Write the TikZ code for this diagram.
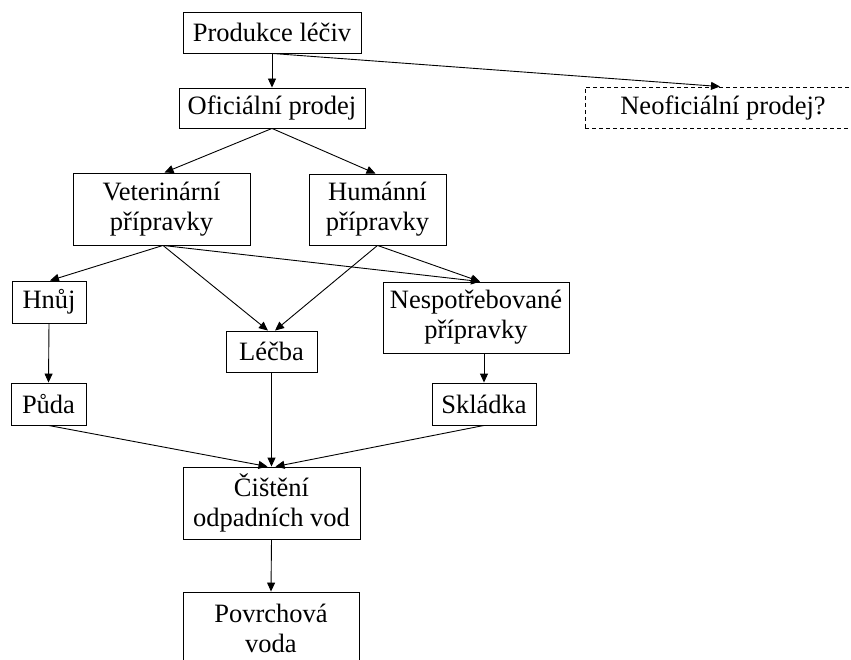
\documentclass[tikz,border=0pt]{standalone}
\usepackage{fontspec}
\setmainfont{Liberation Serif}
\usetikzlibrary{arrows.meta}
\begin{document}
\begin{tikzpicture}[x=1pt,y=-1pt,
  box/.style={draw=black, line width=0.9pt, inner sep=0pt, align=center,
    font=\fontsize{26.5}{30}\selectfont},
  conn/.style={draw=black, line width=0.9pt, -{Triangle[length=9pt,width=8pt]}}]
\useasboundingbox (0,0) rectangle (851,660);
\clip (0,0) rectangle (851,660);
\node[box, minimum width=178pt, minimum height=41pt] (prod) at (272,32.5) {Produkce léčiv};
\node[box, minimum width=186pt, minimum height=40pt] (ofic) at (272,108) {Oficiální prodej};
\node[box, dashed, dash pattern=on 4pt off 3pt, minimum width=276pt, minimum height=41pt] (neo) at (723,107.5) {Neoficiální prodej?};
\node[box, minimum width=177pt, minimum height=72pt] (vet) at (161.5,209) {Veterinární\\přípravky};
\node[box, minimum width=137pt, minimum height=71pt] (hum) at (377.5,209.5) {Humánní\\přípravky};
\node[box, minimum width=74pt, minimum height=42pt] (hnuj) at (49,302) {Hnůj};
\node[box, minimum width=91pt, minimum height=41pt] (lecba) at (271.5,351.5) {Léčba};
\node[box, minimum width=186pt, minimum height=71pt] (nesp) at (476,317.5) {Nespotřebované\\přípravky};
\node[box, minimum width=75pt, minimum height=42pt] (puda) at (48.5,404) {Půda};
\node[box, minimum width=104pt, minimum height=42pt] (sklad) at (484,404) {Skládka};
\node[box, minimum width=177pt, minimum height=72pt] (cist) at (271.5,503) {Čištění\\odpadních vod};
\node[box, minimum width=176pt, minimum height=72pt] (povr) at (271,628) {Povrchová\\voda};

\draw[conn] (prod.south) -- (ofic.north);
\draw[conn] (prod.south) -- ([xshift=-3pt]neo.north);
\draw[conn] (ofic.south) -- ([xshift=3pt]vet.north);
\draw[conn] (ofic.south) -- ([xshift=-2pt]hum.north);
\draw[conn] ([xshift=1.5pt]vet.south) -- ([xshift=1pt]hnuj.north);
\draw[conn] ([xshift=1.5pt]vet.south) -- ([xshift=-3.5pt]lecba.north);
\draw[conn] ([xshift=1.5pt]vet.south) -- ([xshift=4pt]nesp.north);
\draw[conn] (hum.south) -- ([xshift=3.5pt]lecba.north);
\draw[conn] (hum.south) -- ([xshift=4pt]nesp.north);
\draw[conn] (hnuj.south) -- (puda.north);
\draw[conn] (sklad.north |- nesp.south) -- (sklad.north);
\draw[conn] (puda.south) -- ([xshift=-4pt]cist.north);
\draw[conn] (lecba.south) -- (cist.north);
\draw[conn] (sklad.south) -- ([xshift=4pt]cist.north);
\draw[conn] (cist.south) -- (povr.north);
\end{tikzpicture}
\end{document}
